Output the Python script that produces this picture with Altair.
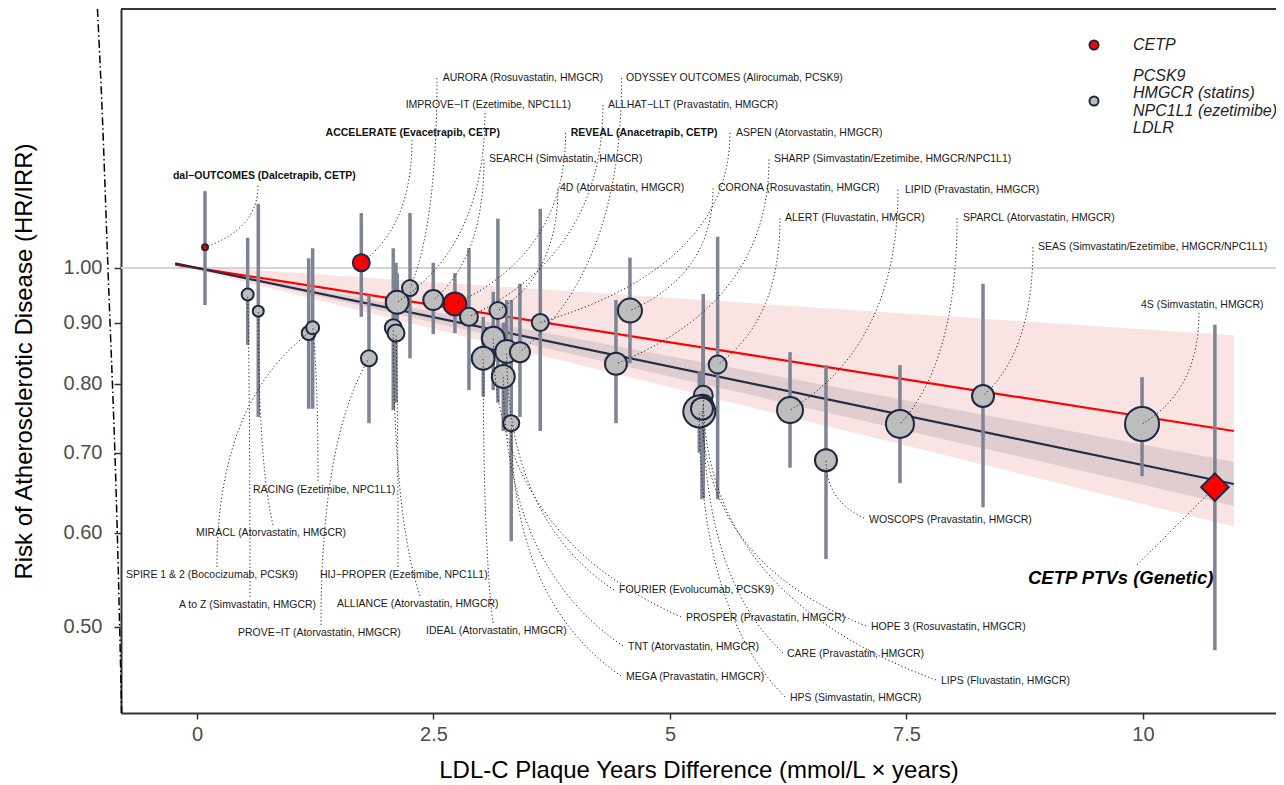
import altair as alt
import numpy as np
import pandas as pd

# ---------------- data ----------------
trial = [
    "dal−OUTCOMES (Dalcetrapib, CETP)", "A to Z (Simvastatin, HMGCR)", "MIRACL (Atorvastatin, HMGCR)",
    "SPIRE 1 & 2 (Bococizumab, PCSK9)", "RACING (Ezetimibe, NPC1L1)", "ACCELERATE (Evacetrapib, CETP)",
    "PROVE−IT (Atorvastatin, HMGCR)", "IMPROVE−IT (Ezetimibe, NPC1L1)", "ALLIANCE (Atorvastatin, HMGCR)",
    "HIJ−PROPER (Ezetimibe, NPC1L1)", "AURORA (Rosuvastatin, HMGCR)", "SEARCH (Simvastatin, HMGCR)",
    "REVEAL (Anacetrapib, CETP)", "ALLHAT−LLT (Pravastatin, HMGCR)", "4D (Atorvastatin, HMGCR)",
    "PROSPER (Pravastatin, HMGCR)", "IDEAL (Atorvastatin, HMGCR)", "FOURIER (Evolucumab, PCSK9)",
    "ODYSSEY OUTCOMES (Alirocumab, PCSK9)", "TNT (Atorvastatin, HMGCR)", "MEGA (Pravastatin, HMGCR)",
    "ASPEN (Atorvastatin, HMGCR)", "CORONA (Rosuvastatin, HMGCR)", "SHARP (Simvastatin/Ezetimibe, HMGCR/NPC1L1)",
    "LIPS (Fluvastatin, HMGCR)", "CARE (Pravastatin, HMGCR)", "HPS (Simvastatin, HMGCR)",
    "HOPE 3 (Rosuvastatin, HMGCR)", "ALERT (Fluvastatin, HMGCR)", "LIPID (Pravastatin, HMGCR)",
    "WOSCOPS (Pravastatin, HMGCR)", "SPARCL (Atorvastatin, HMGCR)", "SEAS (Simvastatin/Ezetimibe, HMGCR/NPC1L1)",
    "4S (Simvastatin, HMGCR)",
]
target = ["CETP", "Other", "Other", "Other", "Other", "CETP", "Other", "Other", "Other", "Other",
          "Other", "Other", "CETP", "Other", "Other", "Other", "Other", "Other", "Other", "Other",
          "Other", "Other", "Other", "Other", "Other", "Other", "Other", "Other", "Other", "Other",
          "Other", "Other", "Other", "Other"]
plaque_years = [0.085, 0.536, 0.648, 1.181, 1.223, 1.737, 1.818, 2.117, 2.075, 2.104,
                2.252, 2.498, 2.727, 2.875, 3.181, 3.132, 3.026, 3.274, 3.414, 3.238,
                3.322, 3.629, 4.577, 4.429, 5.352, 5.349, 5.310, 5.338, 5.504, 6.269,
                6.649, 7.431, 8.309, 9.990]
hr = [1.041, 0.950, 0.920, 0.882, 0.891, 1.010, 0.840, 0.936, 0.891, 0.882,
      0.962, 0.940, 0.933, 0.910, 0.921, 0.873, 0.840, 0.851, 0.850, 0.811,
      0.741, 0.900, 0.921, 0.831, 0.782, 0.768, 0.758, 0.762, 0.830, 0.760,
      0.690, 0.740, 0.781, 0.740]
hr_lo = [0.931, 0.862, 0.750, 0.762, 0.762, 0.910, 0.741, 0.870, 0.760, 0.771,
         0.840, 0.880, 0.882, 0.790, 0.771, 0.790, 0.780, 0.750, 0.750, 0.730,
         0.590, 0.730, 0.832, 0.741, 0.641, 0.660, 0.700, 0.640, 0.640, 0.680,
         0.570, 0.660, 0.630, 0.669]
hr_hi = [1.160, 1.060, 1.132, 1.019, 1.039, 1.112, 0.949, 0.990, 1.039, 1.010,
         1.112, 1.010, 0.990, 1.039, 1.100, 0.955, 0.910, 0.940, 0.970, 0.900,
         0.940, 1.121, 1.020, 0.940, 0.951, 0.910, 0.820, 0.810, 1.062, 0.850,
         0.829, 0.829, 0.970, 0.810]
weight = [9, 36, 30, 49, 42, 72, 64, 132, 72, 72,
          64, 100, 132, 81, 72, 132, 132, 132, 100, 132,
          64, 72, 144, 121, 90, 100, 256, 121, 81, 169,
          121, 196, 121, 289]

# genetic estimate (diamond)
genetic_name = ["CETP PTVs (Genetic)"]
genetic_x = [10.76]
genetic_hr = [0.655]
genetic_lo = [0.478]
genetic_hi = [0.896]

# label placement (data units) and leader anchors
lab_x = [-0.254, -0.190, -0.011, -0.751, 0.592, 1.360, 0.433, 2.206, 1.480, 1.300,
         2.597, 3.087, 3.950, 4.345, 3.837, 5.169, 2.421, 4.461, 4.535, 4.556,
         4.535, 5.698, 5.507, 6.099, 7.865, 6.237, 6.269, 7.125, 6.216, 7.484,
         7.104, 8.097, 8.890, 9.979, 8.784]
lab_y = [1.194, 0.5217, 0.5995, 0.553, 0.651, 1.298, 0.4943, 1.370, 0.5227, 0.553,
         1.443, 1.233, 1.298, 1.370, 1.166, 0.5088, 0.4962, 0.537, 1.443, 0.4811,
         0.4540, 1.298, 1.166, 1.233, 0.4505, 0.4747, 0.436, 0.500, 1.101, 1.163,
         0.615, 1.101, 1.041, 0.931, 0.5497]
anc_x = [0.645, 0.560, 0.803, 0.211, 1.279, 2.273, 1.311, 3.044, 2.357, 2.125,
         2.537, 3.034, 3.897, 4.292, 3.816, 5.116, 3.129, 4.408, 4.489, 4.503,
         4.482, 5.634, 5.455, 6.047, 7.812, 6.195, 6.216, 7.072, 6.163, 7.410,
         7.051, 8.034, 8.837, 10.592, 9.937]
anc_y = [1.172, 0.530, 0.609, 0.5614, 0.663, 1.280, 0.502, 1.349, 0.531, 0.5614,
         1.443, 1.233, 1.298, 1.370, 1.166, 0.5098, 0.504, 0.537, 1.443, 0.482,
         0.4549, 1.298, 1.166, 1.233, 0.4514, 0.4756, 0.4369, 0.501, 1.101, 1.163,
         0.617, 1.101, 1.041, 0.917, 0.5637]
bend = ["A", "A", "P", "A", "A", "A", "A", "A", "P", "A",
        "A", "A", "A", "A", "A", "P", "P", "P", "A", "P",
        "P", "A", "A", "A", "P", "P", "P", "P", "A", "A",
        "P", "A", "A", "A", "S"]
bold_labels = ["dal−OUTCOMES (Dalcetrapib, CETP)", "ACCELERATE (Evacetrapib, CETP)", "REVEAL (Anacetrapib, CETP)"]

# fitted lines and their confidence bands (endpoints)
fit_x = [-0.23, 10.96]
fit_cetp = [1.0066, 0.730]
fit_other = [1.0088, 0.659]
band_cetp_lo = [1.006, 0.607]
band_cetp_hi = [1.006, 0.878]
band_other_lo = [1.009, 0.632]
band_other_hi = [1.009, 0.688]

# stray dash-dot trace at the left of the panel
trace_x = [-1.052, -1.007, -0.941, -0.842, -0.796]
trace_y = [1.6487, 1.383, 1.0, 0.5995, 0.4235]

legend_top = ["CETP"]
legend_bottom = ["PCSK9\nHMGCR (statins)\nNPC1L1 (ezetimibe)\nLDLR"]

# ---------------- tables ----------------
trials = pd.DataFrame(dict(name=trial, target=target, x=plaque_years, hr=hr, lo=hr_lo, hi=hr_hi, w=weight))
genetic = pd.DataFrame(dict(name=genetic_name, x=genetic_x, hr=genetic_hr, lo=genetic_lo, hi=genetic_hi))
all_names = trial + genetic_name
pt_x = plaque_years + genetic_x
pt_y = hr + genetic_hr
labels = pd.DataFrame(dict(name=all_names, lx=lab_x, ly=lab_y))
labels["style"] = ["bold" if n in bold_labels else ("genetic" if n in genetic_name else "plain") for n in all_names]

K = 0.7
rows = []
for i, n in enumerate(all_names):
    ax, ay = anc_x[i], np.log(anc_y[i])
    qx, qy = pt_x[i], np.log(pt_y[i])
    if bend[i] == "A":
        cx, cy = ax, ay + K * (qy - ay)
    elif bend[i] == "P":
        cx, cy = qx, qy + K * (ay - qy)
    else:
        cx, cy = (ax + qx) / 2, (ay + qy) / 2
    for j, t in enumerate(np.linspace(0, 1, 30)):
        bx = (1 - t) ** 2 * ax + 2 * t * (1 - t) * cx + t ** 2 * qx
        by = (1 - t) ** 2 * ay + 2 * t * (1 - t) * cy + t ** 2 * qy
        rows.append(dict(name=n, i=j, x=bx, y=float(np.exp(by))))
leaders = pd.DataFrame(rows)

fits = pd.DataFrame(dict(x=fit_x * 2, y=fit_cetp + fit_other, fit=["CETP"] * 2 + ["Other"] * 2))
bands = pd.DataFrame(dict(x=fit_x * 2, lo=band_cetp_lo + band_other_lo, hi=band_cetp_hi + band_other_hi,
                          band=["CETP"] * 2 + ["Other"] * 2))
trace = pd.DataFrame(dict(x=trace_x, y=trace_y, i=list(range(len(trace_x)))))
unity = pd.DataFrame(dict(y=[1.0]))
dummy = pd.DataFrame(dict(a=[0]))

# ---------------- scales & axes ----------------
W, H = 1155, 704
FONT = "Liberation Sans"
xscale = alt.Scale(domain=[-0.803, 11.406], nice=False, zero=False)
yscale = alt.Scale(type="log", domain=[0.4235, 1.6487], nice=False, zero=False)
xaxis = alt.Axis(values=[0, 2.5, 5, 7.5, 10], format=".1~f", title="LDL-C Plaque Years Difference (mmol/L × years)",
                 grid=False, domainColor="#333333", domainWidth=2, tickColor="#333333", tickWidth=1.5,
                 tickSize=6, labelFontSize=20, labelColor="#4d4d4d", labelPadding=5, labelFont=FONT,
                 titleFont=FONT, titleFontSize=24, titleFontWeight="normal", titleColor="#000000",
                 titlePadding=14)
yaxis = alt.Axis(values=[0.5, 0.6, 0.7, 0.8, 0.9, 1.0], format=".2f",
                 title="Risk of Atherosclerotic Disease (HR/IRR)", grid=False, domainColor="#333333",
                 domainWidth=2, tickColor="#333333", tickWidth=1.5, tickSize=7, labelFontSize=20,
                 labelColor="#4d4d4d", labelPadding=12, labelFont=FONT, titleFont=FONT, titleFontSize=24,
                 titleFontWeight="normal", titleColor="#000000", titlePadding=27)


def X(f):
    return alt.X(f, type="quantitative", scale=xscale, axis=xaxis)


def Y(f):
    return alt.Y(f, type="quantitative", scale=yscale, axis=yaxis)


band_layer = alt.Chart(bands).mark_area(opacity=1).encode(
    x=X("x"), y=Y("lo"), y2="hi", detail="band:N",
    color=alt.Color("band:N", scale=alt.Scale(domain=["CETP", "Other"], range=["#fae3e3", "#5c5c70"]), legend=None),
    opacity=alt.Opacity("band:N", scale=alt.Scale(domain=["CETP", "Other"], range=[1.0, 0.16]), legend=None),
)

unity_layer = alt.Chart(unity).mark_rule(color="#d4d4d4", strokeWidth=2).encode(
    y=Y("y"), x=alt.value(0), x2=alt.value(W))

fit_layer = alt.Chart(fits).mark_line(strokeWidth=2.2).encode(
    x=X("x"), y=Y("y"), detail="fit:N",
    color=alt.Color("fit:N", scale=alt.Scale(domain=["CETP", "Other"], range=["#ff0000", "#252c45"]), legend=None),
)

err_layer = alt.Chart(trials).mark_rule(color="#7e8494", strokeWidth=3.5).encode(
    x=X("x"), y=Y("lo"), y2="hi")
gen_err_layer = alt.Chart(genetic).mark_rule(color="#7e8494", strokeWidth=3.5).encode(
    x=X("x"), y=Y("lo"), y2="hi")

pts_layer = alt.Chart(trials).mark_point(filled=True, opacity=1, stroke="#1f2740", strokeWidth=2).encode(
    x=X("x"), y=Y("hr"),
    fill=alt.Fill("target:N", scale=alt.Scale(domain=["CETP", "Other"], range=["#ff0000", "#bdbdbd"]), legend=None),
    size=alt.Size("w:Q", scale=alt.Scale(domain=[0, 100], range=[0, 400]), legend=None),
)

diamond_layer = alt.Chart(genetic).mark_point(shape="diamond", filled=True, fill="#ff0000", opacity=1,
                                              stroke="#1f2740", strokeWidth=2, size=760).encode(
    x=X("x"), y=Y("hr"))

leader_layer = alt.Chart(leaders).mark_line(color="#222222", strokeWidth=1, strokeDash=[1.2, 2.4]).encode(
    x=X("x"), y=Y("y"), detail="name:N", order="i:Q")

plain_text = alt.Chart(labels).transform_filter(alt.datum.style == "plain").mark_text(
    align="left", baseline="middle", fontSize=10.5, color="#1a1a1a", font=FONT).encode(
    x=X("lx"), y=Y("ly"), text="name:N")
bold_text = alt.Chart(labels).transform_filter(alt.datum.style == "bold").mark_text(
    align="left", baseline="middle", fontSize=10.5, fontWeight="bold", color="#111111", font=FONT).encode(
    x=X("lx"), y=Y("ly"), text="name:N")
gen_text = alt.Chart(labels).transform_filter(alt.datum.style == "genetic").mark_text(
    align="left", baseline="middle", fontSize=18.5, fontWeight="bold", fontStyle="italic", color="#000000",
    font=FONT).encode(x=X("lx"), y=Y("ly"), text="name:N")

trace_layer = alt.Chart(trace).mark_line(color="#000000", strokeWidth=1.5, strokeDash=[8, 3, 1.5, 3],
                                         interpolate="monotone").encode(
    x=X("x"), y=Y("y"), order="i:Q")

frame_top = alt.Chart(dummy).mark_rule(color="#333333", strokeWidth=2).encode(
    x=alt.value(0), x2=alt.value(W), y=alt.value(0))

leg_red = alt.Chart(dummy).mark_point(filled=True, fill="#ff0000", stroke="#1f2740", strokeWidth=2,
                                      size=81, opacity=1).encode(x=alt.value(973), y=alt.value(36))
leg_grey = alt.Chart(dummy).mark_point(filled=True, fill="#bdbdbd", stroke="#1f2740", strokeWidth=2,
                                       size=81, opacity=1).encode(x=alt.value(973), y=alt.value(92))
leg_t1 = alt.Chart(pd.DataFrame(dict(t=legend_top))).mark_text(
    align="left", baseline="middle", fontSize=16, fontStyle="italic", color="#222222", font=FONT).encode(
    x=alt.value(1012), y=alt.value(36), text="t:N")
leg_t2 = alt.Chart(pd.DataFrame(dict(t=legend_bottom))).mark_text(
    align="left", baseline="middle", fontSize=16, fontStyle="italic", color="#222222", font=FONT,
    lineBreak="\n", lineHeight=17.3).encode(
    x=alt.value(1012), y=alt.value(67), text="t:N")

chart = alt.layer(
    band_layer, unity_layer, fit_layer, err_layer, gen_err_layer, pts_layer, diamond_layer,
    leader_layer, plain_text, bold_text, gen_text, trace_layer, frame_top,
    leg_red, leg_grey, leg_t1, leg_t2,
).resolve_scale(color="independent", opacity="independent", fill="independent").properties(
    width=W, height=H,
    padding={"left": 113, "top": 1, "right": 0, "bottom": 72},
    autosize=alt.AutoSizeParams(type="none"),
    background="#ffffff",
).configure_view(strokeWidth=0).configure(font=FONT)

chart.save("out.html", embed_options={"renderer": "svg", "actions": False})
